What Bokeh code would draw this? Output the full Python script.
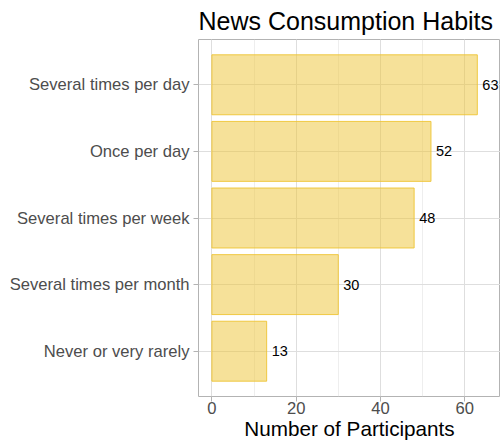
from bokeh.plotting import figure
from bokeh.models import ColumnDataSource, FactorRange, Range1d, SingleIntervalTicker
from bokeh.embed import file_html
from bokeh.resources import INLINE

# Survey answers, listed from most to least frequent
categories = [
    "Several times per day",
    "Once per day",
    "Several times per week",
    "Several times per month",
    "Never or very rarely",
]
participants = [63, 52, 48, 30, 13]

FONT = "Liberation Sans"

source = ColumnDataSource(data=dict(
    category=categories,
    count=participants,
    label=[str(v) for v in participants],
))

p = figure(
    width=500, height=442,
    y_range=FactorRange(factors=list(reversed(categories)),
                        range_padding=0.18, range_padding_units="absolute"),
    x_range=Range1d(-3.18, 68.5),
    output_backend="svg", toolbar_location=None,
    min_border_left=198, min_border_right=0,
    min_border_top=0, min_border_bottom=0,
    title="News Consumption Habits",
)

# Title
p.title.text_font = FONT
p.title.text_font_size = "25px"
p.title.text_font_style = "normal"
p.title.text_color = "#000000"
p.title.align = "left"
p.title.standoff = 9

# Panel border and grid
p.outline_line_color = "#B3B3B3"
p.outline_line_width = 1
p.xgrid.grid_line_color = "#DEDEDE"
p.xgrid.grid_line_width = 1
p.xgrid.minor_grid_line_color = "#E6E6E6"
p.xgrid.minor_grid_line_width = 0.7
p.ygrid.grid_line_color = "#DEDEDE"
p.ygrid.grid_line_width = 1

# Bars
p.hbar(y="category", right="count", left=0, height=0.9, source=source,
       fill_color="#EEC433", fill_alpha=0.5,
       line_color="#EEC433", line_alpha=0.9, line_width=1)

# Value labels next to the bars
p.text(x="count", y="category", text="label", source=source,
       x_offset=5, text_align="left", text_baseline="middle",
       text_font_size="14.5px", text_color="#000000",
       text_font={"value": FONT})

# X axis
p.xaxis.ticker = SingleIntervalTicker(interval=20, num_minor_ticks=2)
p.xaxis.axis_label = "Number of Participants"
p.xaxis.axis_label_text_font = FONT
p.xaxis.axis_label_text_font_size = "20.7px"
p.xaxis.axis_label_text_font_style = "normal"
p.xaxis.axis_label_text_color = "#000000"
p.xaxis.axis_label_standoff = 0
p.xaxis.major_label_text_font = FONT
p.xaxis.major_label_text_font_size = "16.6px"
p.xaxis.major_label_text_color = "#4D4D4D"
p.xaxis.major_label_standoff = 0

# Y axis
p.yaxis.major_label_text_font = FONT
p.yaxis.major_label_text_font_size = "16.6px"
p.yaxis.major_label_text_color = "#4D4D4D"
p.yaxis.major_label_standoff = 4

for ax in (p.xaxis, p.yaxis):
    ax.axis_line_color = None
    ax.major_tick_line_color = "#B3B3B3"
    ax.major_tick_out = 5
    ax.major_tick_in = 0
    ax.minor_tick_line_color = None

open("out.html", "w").write(file_html(p, INLINE))
